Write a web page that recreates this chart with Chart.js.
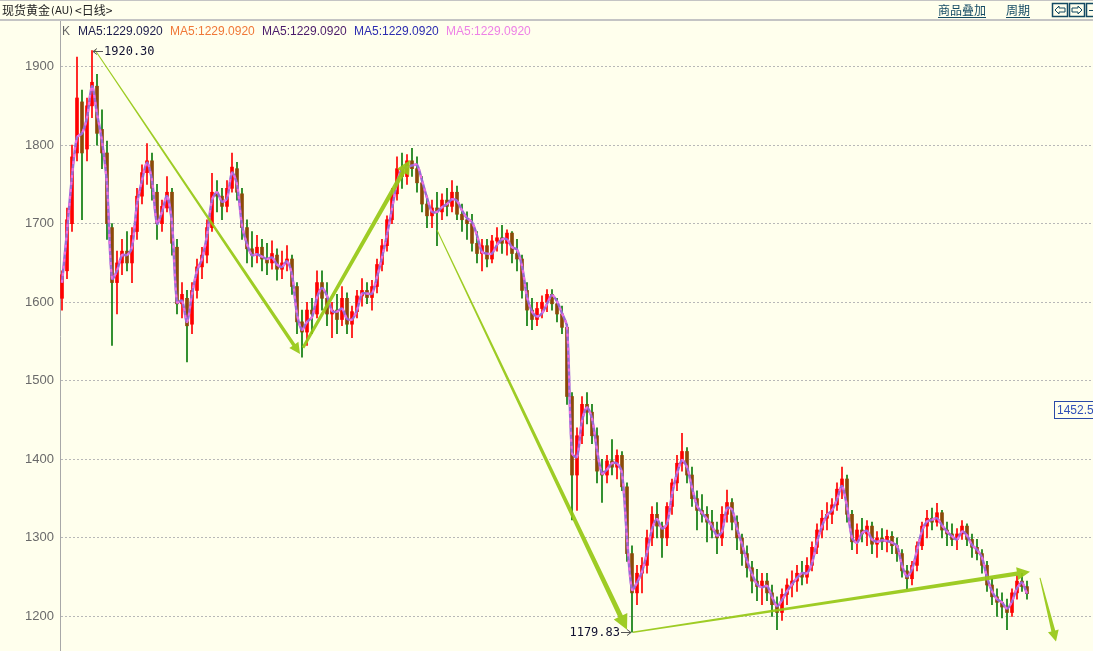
<!DOCTYPE html>
<html><head><meta charset="utf-8">
<script src="https://cdn.jsdelivr.net/npm/chart.js@4.4.0/dist/chart.umd.min.js"></script>
<style>html,body{margin:0;padding:0;background:#FFFFED;overflow:hidden}#wrap{width:1093px;height:651px;position:relative}</style>
</head><body><div id="wrap"><canvas id="c" width="1093" height="651"></canvas></div>
<script>
// ---- data (daily candles) ----
const opens=[1605,1640,1700,1790,1855,1795,1850,1875,1820,1790,
1695,1625,1650,1665,1650,1690,1735,1765,1780,1740,
1700,1720,1740,1670,1598,1605,1572,1615,1645,1660,
1695,1740,1735,1722,1745,1770,1738,1695,1668,1660,
1670,1655,1650,1660,1642,1650,1655,1620,1575,1562,
1590,1585,1625,1605,1585,1590,1578,1605,1572,1588,
1608,1615,1606,1620,1648,1672,1705,1738,1770,1760,
1780,1770,1752,1725,1710,1720,1715,1730,1722,1740,
1712,1705,1700,1675,1662,1672,1655,1678,1682,1675,
1688,1662,1655,1615,1590,1578,1592,1600,1610,1598,
1585,1568,1480,1380,1430,1470,1460,1430,1385,1380,
1398,1390,1405,1365,1280,1230,1255,1265,1300,1330,
1315,1300,1340,1370,1395,1410,1380,1350,1335,1330,
1320,1310,1300,1330,1345,1320,1300,1280,1262,1245,
1238,1245,1230,1215,1205,1228,1240,1245,1255,1250,
1265,1288,1310,1325,1330,1342,1362,1375,1330,1295,
1310,1305,1315,1292,1300,1295,1302,1290,1280,1258,
1248,1265,1290,1315,1325,1320,1332,1310,1305,1298,
1305,1315,1298,1288,1280,1265,1240,1225,1218,1212,
1205,1230,1245,1238];
const highs=[1640,1720,1800,1912,1870,1860,1920.3,1890,1845,1805,
1700,1665,1680,1690,1695,1745,1775,1802,1790,1750,
1730,1760,1745,1680,1625,1615,1625,1655,1670,1705,
1764,1755,1745,1755,1790,1778,1745,1705,1690,1685,
1680,1675,1678,1668,1665,1672,1660,1625,1590,1600,
1605,1640,1640,1625,1600,1610,1620,1612,1595,1615,
1630,1625,1628,1655,1680,1710,1745,1785,1790,1788,
1796,1785,1760,1735,1730,1740,1738,1745,1755,1748,
1725,1715,1712,1690,1680,1680,1685,1695,1698,1692,
1690,1680,1660,1625,1605,1600,1608,1616,1616,1605,
1595,1572,1485,1440,1480,1485,1470,1440,1400,1405,
1425,1412,1410,1370,1290,1265,1275,1310,1340,1345,
1320,1345,1375,1405,1433,1415,1390,1360,1355,1340,
1335,1320,1340,1361,1350,1328,1305,1290,1270,1260,
1255,1255,1240,1225,1235,1248,1258,1265,1270,1275,
1295,1318,1335,1345,1350,1370,1390,1380,1335,1318,
1325,1322,1320,1308,1312,1310,1308,1300,1285,1265,
1270,1295,1320,1335,1338,1344,1335,1320,1318,1312,
1322,1318,1305,1298,1285,1270,1248,1235,1230,1222,
1235,1252,1255,1245];
const lows=[1590,1630,1690,1780,1705,1780,1835,1800,1770,1680,
1545,1585,1635,1640,1625,1680,1725,1750,1730,1680,
1690,1715,1660,1585,1580,1524,1560,1605,1630,1650,
1690,1715,1705,1715,1740,1730,1680,1650,1645,1650,
1640,1635,1642,1628,1630,1640,1610,1560,1530,1545,
1560,1580,1590,1570,1555,1560,1570,1560,1555,1580,
1595,1598,1590,1612,1640,1665,1700,1730,1745,1750,
1760,1740,1715,1695,1695,1672,1705,1710,1715,1705,
1690,1680,1665,1650,1640,1645,1650,1665,1662,1660,
1650,1640,1605,1570,1565,1570,1580,1588,1590,1575,
1560,1470,1323,1335,1420,1445,1420,1370,1345,1370,
1380,1375,1360,1270,1179.83,1215,1230,1255,1290,1300,
1275,1290,1330,1360,1385,1370,1340,1310,1320,1295,
1300,1280,1290,1320,1310,1285,1265,1250,1230,1220,
1215,1220,1200,1183,1195,1215,1225,1232,1240,1242,
1258,1280,1300,1310,1318,1335,1350,1320,1285,1280,
1295,1290,1280,1275,1285,1282,1280,1270,1250,1235,
1240,1258,1285,1300,1310,1315,1300,1290,1290,1285,
1298,1290,1275,1272,1255,1232,1215,1200,1198,1183,
1200,1222,1232,1222];
const closes=[1635,1705,1785,1860,1790,1850,1880,1815,1790,1700,
1625,1650,1665,1650,1685,1735,1765,1780,1745,1700,
1722,1740,1675,1598,1610,1570,1615,1645,1660,1695,
1740,1735,1722,1745,1772,1740,1695,1668,1660,1670,
1655,1650,1662,1642,1650,1655,1620,1575,1562,1590,
1585,1625,1605,1585,1590,1578,1605,1572,1588,1608,
1615,1606,1620,1648,1672,1705,1738,1770,1760,1780,
1770,1752,1725,1710,1720,1715,1730,1722,1740,1712,
1705,1700,1675,1662,1672,1655,1678,1682,1675,1688,
1662,1655,1615,1590,1578,1592,1600,1610,1598,1585,
1568,1480,1380,1430,1470,1460,1430,1385,1380,1398,
1390,1405,1365,1280,1230,1255,1265,1300,1330,1315,
1300,1340,1370,1395,1410,1380,1350,1335,1330,1320,
1310,1300,1330,1345,1320,1300,1280,1262,1245,1238,
1245,1230,1215,1205,1228,1240,1245,1255,1250,1265,
1288,1310,1325,1330,1342,1362,1375,1330,1295,1310,
1305,1315,1292,1300,1295,1302,1290,1280,1258,1248,
1265,1290,1315,1325,1320,1332,1310,1305,1298,1305,
1315,1298,1288,1280,1265,1240,1225,1218,1212,1205,
1230,1245,1238,1229];
const ma5=[1625,1690,1760,1810,1815,1835,1875,1840,1805,1750,
1630,1640,1660,1660,1670,1725,1755,1778,1755,1700,
1715,1735,1700,1600,1602,1575,1610,1640,1655,1685,
1730,1740,1728,1732,1765,1750,1698,1674,1660,1661,
1658,1655,1657,1648,1645,1652,1635,1585,1565,1575,
1581,1606,1618,1608,1589,1588,1592,1579,1578,1590,
1611,1611,1611,1632,1657,1686,1719,1752,1770,1772,
1774,1775,1755,1733,1715,1715,1721,1725,1731,1729,
1717,1707,1702,1685,1664,1662,1662,1673,1680,1680,
1670,1667,1646,1607,1588,1582,1586,1598,1609,1601,
1586,1569,1408,1403,1449,1466,1452,1412,1382,1387,
1395,1395,1382,1300,1234,1243,1257,1281,1311,1324,
1312,1318,1355,1382,1399,1390,1364,1341,1332,1324,
1315,1303,1308,1338,1336,1312,1292,1271,1254,1241,
1237,1239,1225,1213,1221,1232,1241,1249,1255,1255,
1268,1295,1315,1329,1335,1349,1366,1340,1300,1294,
1306,1309,1298,1295,1297,1296,1294,1290,1265,1251,
1260,1284,1309,1321,1323,1325,1316,1308,1302,1298,
1308,1303,1291,1285,1275,1250,1232,1222,1218,1210,
1219,1236,1243,1229];
const yTicks=[1200,1300,1400,1500,1600,1700,1800,1900];
const legendLabels=['MA5:1229.0920','MA5:1229.0920','MA5:1229.0920','MA5:1229.0920','MA5:1229.0920'];
const highLabel={index:6,value:1920.30,text:'1920.30'};
const lowLabel={index:114,value:1179.83,text:'1179.83'};
const cursorValue='1452.5';
// trend arrows: [fromIndex, fromPrice, toIndex, toPrice]
const trendArrows=[[6.6,1921,47.6,1534],[48.2,1542,69.6,1781],[75,1692,113,1183],[114.2,1180,193.6,1257],[195.6,1249,198.8,1168]];

// ---- styles ----
const BG='#FFFFED';
const arrowStyle=[{w0:1,w1:3.5,hl:11,hw:5.5},{w0:3,w1:4.5,hl:14,hw:7},{w0:1,w1:5,hl:15,hw:7.5},{w0:1.5,w1:4.5,hl:13,hw:6.5},{w0:1,w1:4,hl:11,hw:5.5}];
const legendColors=['#1c1c4c','#F07838','#4a1a6a','#2c2cb0','#EE82E6'];
const legendX=[78,170,262,354,446];
const UP='#FF0000', DOWNBODY='#8B4A08', DOWNWICK='#0A7A0A';

const idx=closes.map((_,i)=>i);
const isUp=idx.map(i=>closes[i]>=opens[i]);

function drawArrow(ctx,x0,y0,x1,y1,s,color){
  const dx=x1-x0,dy=y1-y0,L=Math.hypot(dx,dy),ux=dx/L,uy=dy/L,nx=-uy,ny=ux;
  const bx=x1-ux*s.hl,by=y1-uy*s.hl;
  ctx.beginPath();
  ctx.moveTo(x0+nx*s.w0/2,y0+ny*s.w0/2);
  ctx.lineTo(bx+nx*s.w1/2,by+ny*s.w1/2);
  ctx.lineTo(bx+nx*s.hw,by+ny*s.hw);
  ctx.lineTo(x1,y1);
  ctx.lineTo(bx-nx*s.hw,by-ny*s.hw);
  ctx.lineTo(bx-nx*s.w1/2,by-ny*s.w1/2);
  ctx.lineTo(x0-nx*s.w0/2,y0-ny*s.w0/2);
  ctx.closePath();ctx.fillStyle=color;ctx.fill();
}
function smallArrow(ctx,xTip,y,xTail){
  ctx.strokeStyle='#555';ctx.lineWidth=1;
  ctx.beginPath();ctx.moveTo(xTail,y+0.5);ctx.lineTo(xTip,y+0.5);ctx.stroke();
  const d=xTail>xTip?1:-1;
  ctx.beginPath();ctx.moveTo(xTip+d*4,y-2.5);ctx.lineTo(xTip,y+0.5);ctx.lineTo(xTip+d*4,y+3.5);ctx.stroke();
}

const deco={
  id:'deco',
  beforeDraw(chart){const c=chart.ctx;c.save();c.fillStyle=BG;c.fillRect(0,0,chart.width,chart.height);c.restore();},
  afterDatasetsDraw(chart){
    const c=chart.ctx,xs=chart.scales.x,ys=chart.scales.y;
    c.save();
    trendArrows.forEach((a,k)=>{
      drawArrow(c,xs.getPixelForValue(a[0]),ys.getPixelForValue(a[1]),xs.getPixelForValue(a[2]),ys.getPixelForValue(a[3]),arrowStyle[k],'rgba(150,200,20,0.92)');
    });
    c.font='12px "DejaVu Sans Mono"';c.fillStyle='#101030';c.textBaseline='middle';
    let hx=Math.round(xs.getPixelForValue(highLabel.index))+1,hy=Math.round(ys.getPixelForValue(highLabel.value));
    smallArrow(c,hx,hy,hx+10);
    c.textAlign='left';c.fillText(highLabel.text,hx+11,hy+1);
    let lx=Math.round(xs.getPixelForValue(lowLabel.index))-1,ly=Math.round(ys.getPixelForValue(lowLabel.value));
    smallArrow(c,lx,ly,lx-10);
    c.textAlign='right';c.fillText(lowLabel.text,lx-11,ly+1);
    // cursor price box
    c.font='12px "Liberation Sans"';c.textAlign='left';
    c.strokeStyle='#2a4aa8';c.lineWidth=1;c.strokeRect(1054.5,401.5,40,17);
    c.fillStyle='#3050b8';c.fillText(cursorValue,1057,410.5);
    c.restore();
  },
  afterDraw(chart){
    const c=chart.ctx;c.save();
    c.fillStyle=BG;c.fillRect(0,0,chart.width,20);
    c.fillStyle='#c4c4c4';c.fillRect(0,0,chart.width,1);c.fillRect(0,19,chart.width,2);
    c.textBaseline='alphabetic';c.textAlign='left';
    c.font='12px "Noto Sans CJK SC"';c.fillStyle='#222';
    c.fillText('现货黄金',2,15);
    c.font='10px "DejaVu Sans"';c.fillText('(AU)',51,14);
    c.font='12px "Noto Sans CJK SC"';c.fillText('<日线>',75,15);
    c.fillStyle='#134a63';
    c.fillText('商品叠加',938,15);c.fillRect(938,17,48,1);
    c.fillText('周期',1006,15);c.fillRect(1006,17,24,1);
    // buttons
    c.strokeStyle='#134a63';c.lineWidth=1.5;
    [1052,1069,1086].forEach(x=>c.strokeRect(x+0.5,3.5,15,13));
    c.lineWidth=1;
    c.beginPath();c.moveTo(1055,10);c.lineTo(1059,6);c.lineTo(1059,8);c.lineTo(1065,8);c.lineTo(1065,12);c.lineTo(1059,12);c.lineTo(1059,14);c.closePath();c.stroke();
    c.beginPath();c.moveTo(1082,10);c.lineTo(1078,6);c.lineTo(1078,8);c.lineTo(1072,8);c.lineTo(1072,12);c.lineTo(1078,12);c.lineTo(1078,14);c.closePath();c.stroke();
    c.beginPath();c.moveTo(1089,10.5);c.lineTo(1093,10.5);c.stroke();
    // legend row
    c.font='12px "Liberation Sans"';
    c.fillStyle='#666';c.fillText('K',62,35);
    legendLabels.forEach((t,k)=>{c.fillStyle=legendColors[k];c.fillText(t,legendX[k],35);});
    c.restore();
  }
};

new Chart(document.getElementById('c'),{
  data:{datasets:[
    {type:'bar',order:4,data:idx.map(i=>({x:i,y:[lows[i],highs[i]]})),backgroundColor:idx.map(i=>isUp[i]?UP:DOWNWICK),barThickness:1,grouped:false},
    {type:'bar',order:3,data:idx.map(i=>({x:i,y:[opens[i],closes[i]]})),backgroundColor:idx.map(i=>isUp[i]?UP:DOWNBODY),barThickness:3,minBarLength:1,grouped:false},
    {type:'line',order:2,data:idx.map(i=>({x:i,y:ma5[i]})),borderColor:'#9a6ad6',borderWidth:2.5,pointRadius:0,tension:0.3},
    {type:'line',order:1,data:idx.map(i=>({x:i,y:ma5[i]})),borderColor:'#f46ee0',borderWidth:2,borderDash:[3,4],pointRadius:0,tension:0.3}
  ]},
  options:{
    responsive:false,animation:false,events:[],
    layout:{padding:{top:21,left:0,right:0,bottom:0}},
    plugins:{legend:{display:false},tooltip:{enabled:false}},
    scales:{
      x:{type:'linear',display:false,offset:false,min:-0.4,max:206.2},
      y:{type:'linear',position:'left',min:1156,max:1958,
        afterBuildTicks:s=>{s.ticks=yTicks.map(v=>({value:v}));},
        afterFit:s=>{s.width=60;s.paddingTop=0;s.paddingBottom=0;},
        ticks:{color:'#6a6a6a',font:{family:'Liberation Sans',size:13},padding:6,callback:v=>String(v)},
        grid:{color:'#b8b8b8',lineWidth:1,drawTicks:false},
        border:{display:true,color:'#a8a8a8',width:1,dash:[2,2]}
      }
    }
  },
  plugins:[deco]
});
</script>
</body></html>
